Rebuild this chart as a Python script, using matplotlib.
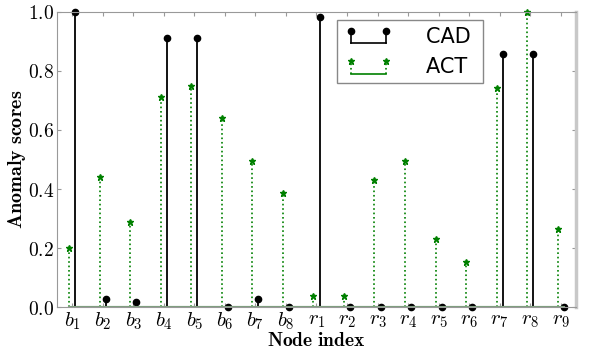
import matplotlib
matplotlib.use("Agg")
import matplotlib.pyplot as plt
from matplotlib.lines import Line2D
from matplotlib.legend_handler import HandlerBase
import numpy as np

plt.rcParams['mathtext.fontset'] = 'cm'

categories = ['b_1', 'b_2', 'b_3', 'b_4', 'b_5', 'b_6', 'b_7', 'b_8',
              'r_1', 'r_2', 'r_3', 'r_4', 'r_5', 'r_6', 'r_7', 'r_8', 'r_9']
cad_scores = [1.0, 0.03, 0.02, 0.91, 0.91, 0.0, 0.03, 0.0,
              0.98, 0.0, 0.0, 0.0, 0.0, 0.0, 0.856, 0.856, 0.0]
act_scores = [0.20, 0.44, 0.29, 0.71, 0.75, 0.64, 0.495, 0.386,
              0.04, 0.04, 0.432, 0.494, 0.232, 0.155, 0.742, 1.0, 0.264]
yticks = [0.0, 0.2, 0.4, 0.6, 0.8, 1.0]
legend_labels = ['CAD', 'ACT']


class HandlerBracket(HandlerBase):
    def __init__(self, color, ls, marker, ms, lw):
        super().__init__()
        self.color, self.ls, self.marker, self.ms, self.lw = color, ls, marker, ms, lw

    def create_artists(self, legend, orig_handle, xdescent, ydescent, width,
                       height, fontsize, trans):
        x0 = -xdescent + 0.17 * width
        x1 = -xdescent + width
        y0 = -ydescent - 0.05 * height
        y1 = -ydescent + 0.8 * height
        arts = [
            Line2D([x0, x0], [y0, y1], color=self.color, ls=self.ls, lw=self.lw),
            Line2D([x1, x1], [y0, y1], color=self.color, ls=self.ls, lw=self.lw),
            Line2D([x0, x1], [y0, y0], color=self.color, ls='-', lw=self.lw),
            Line2D([x0, x1], [y1, y1], color=self.color, ls='', marker=self.marker,
                   markersize=self.ms),
        ]
        for a in arts:
            a.set_transform(trans)
        return arts


fig = plt.figure(figsize=(5.91, 3.49), dpi=100)
ax = fig.add_axes([0.0965, 0.119, 0.878, 0.848])

x = np.arange(len(categories))
off = 0.1

m2, s2, b2 = ax.stem(x - off, act_scores, linefmt='g:', markerfmt='g*', basefmt='g-')
plt.setp(s2, linewidth=1.2, color='green')
plt.setp(m2, markersize=5, color='green')
plt.setp(b2, color='#7f9f7f', linewidth=1.5)

m1, s1, b1 = ax.stem(x + off, cad_scores, linefmt='k-', markerfmt='ko', basefmt='g-')
plt.setp(s1, linewidth=1.3)
plt.setp(m1, markersize=4.5)
plt.setp(b1, color='#7f9f7f', linewidth=1.5)
for a in (m1, m2):
    a.set_clip_on(False)

ax.set_xlim(-0.5, len(categories) - 0.5)
ax.set_ylim(0, 1.0)
ax.set_xticks(x)
ax.set_xticklabels(['$' + c + '$' for c in categories], fontsize=15)
ax.set_yticks(yticks)
ax.set_yticklabels([r'$\mathbf{%.1f}$' % v for v in yticks], fontsize=14)

for sp in ax.spines.values():
    sp.set_color('#999999')
ax.spines['right'].set_color('#c8c8c8')
ax.spines['right'].set_linewidth(2.5)
ax.tick_params(direction='in', length=3, color='#999999', top=True, right=True)
ax.tick_params(axis='x', pad=2)
ax.tick_params(axis='y', pad=2)

ax.set_xlabel(r'$\mathbf{Node\ index}$', fontsize=14)
ax.xaxis.set_label_coords(0.5, -0.078)
ax.set_ylabel(r'$\mathbf{Anomaly\ scores}$', fontsize=14.5)
ax.yaxis.set_label_coords(-0.056, 0.5)

h1 = Line2D([], [], color='k')
h2 = Line2D([], [], color='g')
leg = ax.legend([h1, h2], [s + ' ' for s in legend_labels],
                handler_map={h1: HandlerBracket('black', '-', 'o', 4.5, 1.2),
                             h2: HandlerBracket('green', ':', '*', 5, 1.2)},
                loc='upper left', bbox_to_anchor=(0.54, 0.97), fontsize=15,
                fancybox=False, edgecolor='#888888', framealpha=1,
                handlelength=2.05, handletextpad=1.9, borderpad=0.3,
                labelspacing=0.5, borderaxespad=0, handleheight=0.7)
leg.get_frame().set_linewidth(1.0)

fig.savefig('out.png', dpi=100)
